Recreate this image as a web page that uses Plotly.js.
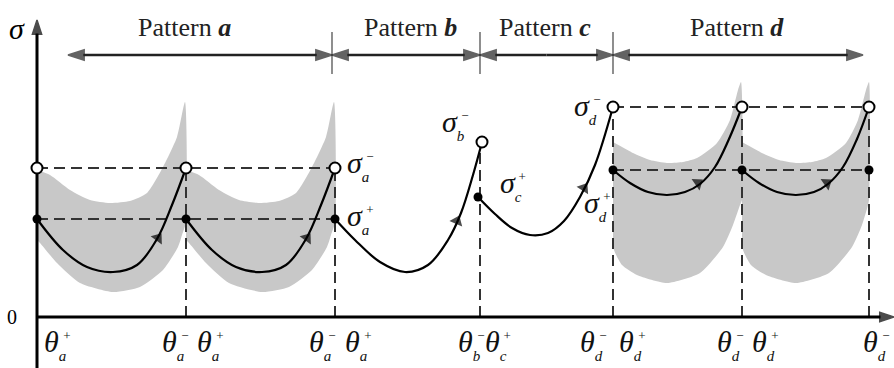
<!DOCTYPE html>
<html>
<head>
<meta charset="utf-8">
<script src="https://cdn.plot.ly/plotly-3.0.1.min.js"></script>
<style>
  html, body { margin: 0; padding: 0; background: #fff; }
  #chart { width: 894px; height: 368px; }
</style>
</head>
<body>
<div id="chart"></div>
<script>
// boundary angles of the stress patterns (theta units, axis origin = 0)
const thetaBounds = [0, 149, 298, 443, 576, 705, 832];
const boundTop = [149, 149, 149, 175, 210, 210, 210];

// stress levels
const sigmaA = [98, 149];   // sigma_a+, sigma_a-
const sigmaD = [147, 210];  // sigma_d+, sigma_d-

// loading paths
const curveA1Theta = [0, 26, 50, 76, 100, 120, 135, 149];
const curveA1Sigma = [98, 67, 50, 45, 52, 78, 112, 149];
const curveA2Theta = [149, 175, 199, 225, 249, 269, 284, 298];
const curveA2Sigma = [98, 67, 50, 45, 52, 78, 112, 149];
const curveBTheta = [298, 318, 343, 368, 391, 411, 424, 436, 445];
const curveBSigma = [98, 77, 55, 45, 52, 77, 104, 142, 175];
const curveCTheta = [441, 458, 475, 493, 511, 527, 543, 558, 576];
const curveCSigma = [120, 103, 89, 82, 84, 96, 120, 152, 210];
const curveD1Theta = [576, 593, 611, 630, 648, 663, 678, 692, 705];
const curveD1Sigma = [147, 134, 125, 122, 125, 133, 150, 178, 210];
const curveD2Theta = [705, 722, 740, 759, 777, 791, 806, 820, 832];
const curveD2Sigma = [147, 134, 125, 122, 125, 133, 150, 178, 210];

// grey scatter bands
const bandA1Theta = [0, 13, 33, 53, 73, 93, 110, 126, 140, 148, 149, 145, 141, 126, 103, 76, 43, 20, 3, 0];
const bandA1Sigma = [147, 142, 127, 117, 114, 116, 124, 150, 180, 215, 95, 82, 70, 47, 30, 25, 34, 54, 74, 77];
const bandA2Theta = [149, 162, 182, 202, 222, 242, 259, 275, 289, 297, 298, 294, 290, 275, 252, 225, 192, 169, 152, 149];
const bandA2Sigma = [147, 142, 127, 117, 114, 116, 124, 150, 180, 215, 95, 82, 70, 47, 30, 25, 34, 54, 74, 77];
const bandD1Theta = [576, 596, 613, 630, 646, 660, 680, 693, 701, 704, 705, 703, 696, 686, 663, 630, 600, 585, 577, 576];
const bandD1Sigma = [175, 164, 157, 154, 155, 159, 174, 197, 227, 235, 117, 112, 92, 70, 44, 34, 42, 52, 67, 77];
const bandD2Theta = [705, 725, 742, 759, 775, 789, 809, 821, 829, 832, 832, 831, 825, 815, 792, 759, 729, 714, 706, 705];
const bandD2Sigma = [175, 164, 157, 154, 155, 159, 174, 197, 227, 235, 117, 112, 92, 70, 44, 34, 42, 52, 67, 77];

// end points of each path
const openTheta = [0, 149, 298, 445, 576, 705, 832];
const openSigma = [149, 149, 149, 175, 210, 210, 210];
const dotTheta = [0, 149, 298, 441, 576, 705, 832];
const dotSigma = [98, 98, 98, 120, 147, 147, 147];

// direction arrows on the paths: position / a point just behind it
const dirTheta = [121, 270, 420, 547, 661, 790];
const dirSigma = [79, 79, 96, 129, 134, 134];
const dirBackTheta = [113, 262, 414, 539, 651, 780];
const dirBackSigma = [68, 68, 82, 117, 127, 127];

// pattern spans at the top
const patternNames = ['a', 'b', 'c', 'd'];
const patternStart = [31, 295, 443, 576];
const patternEnd = [295, 443, 576, 826];
const patternLabelTheta = [147, 373, 508, 700];
const patternTicks = [295, 443, 576];

// theta tick labels (left edge of each label)
const thetaLabelX = [5, 123, 158, 270, 306, 419, 446, 541, 580, 678, 713, 824];
const thetaSign = ['+', '−', '+', '−', '+', '−', '+', '−', '+', '−', '+', '−'];
const thetaSub = ['a', 'a', 'a', 'a', 'a', 'b', 'c', 'd', 'd', 'd', 'd', 'd'];

// sigma labels (left edge of each label)
const sigmaLabelX = [308, 308, 403, 461, 535, 545];
const sigmaLabelY = [152, 99, 193, 132, 209, 112];
const sigmaSign = ['−', '+', '−', '+', '−', '+'];
const sigmaSub = ['a', 'a', 'b', 'c', 'd', 'd'];

const serif = '"Liberation Serif", "Times New Roman", serif';
const grey = '#c8c8c8';
const dashStyle = '11px,6px';

// symbol followed by a lowered subscript letter and a raised sign
function labelText(sym, sign, sub) {
  return '<i>' + sym + '</i>' +
    '<span style="font-size:15px;baseline-shift:-9px;letter-spacing:-3px"><i>' + sub + '</i></span>' +
    '<span style="font-size:13px;baseline-shift:12px">' + sign + '</span>';
}

// line from (x0,y0) to (x1,y1) with an arrowhead at the second point
function arrow(x0, y0, x1, y1, size, width, color) {
  return {
    x: [x0, x1], y: [y0, y1], type: 'scatter', mode: 'lines+markers',
    line: { color, width },
    marker: { symbol: 'arrow', size: [0, size], angleref: 'previous', color, line: { width: 1.5, color } },
    cliponaxis: false, hoverinfo: 'skip'
  };
}

const traces = [];

[[bandA1Theta, bandA1Sigma], [bandA2Theta, bandA2Sigma],
 [bandD1Theta, bandD1Sigma], [bandD2Theta, bandD2Sigma]].forEach(([x, y]) => {
  traces.push({
    x, y, type: 'scatter', mode: 'lines', fill: 'toself',
    fillcolor: grey, line: { width: 0, color: grey, shape: 'spline', smoothing: 0.6 }, hoverinfo: 'skip'
  });
});

// horizontal dashed reference lines
sigmaA.forEach(s => traces.push({
  x: [thetaBounds[0], thetaBounds[2]], y: [s, s], type: 'scatter', mode: 'lines',
  line: { color: '#333', width: 2, dash: dashStyle }, hoverinfo: 'skip'
}));
sigmaD.forEach(s => traces.push({
  x: [thetaBounds[4], thetaBounds[6]], y: [s, s], type: 'scatter', mode: 'lines',
  line: { color: '#333', width: 2, dash: dashStyle }, hoverinfo: 'skip'
}));

// vertical dashed boundaries
thetaBounds.slice(1).forEach((t, i) => traces.push({
  x: [t, t], y: [0, boundTop[i + 1]], type: 'scatter', mode: 'lines',
  line: { color: '#333', width: 2, dash: dashStyle }, hoverinfo: 'skip'
}));

// pattern boundary ticks
patternTicks.forEach(t => traces.push({
  x: [t, t], y: [243, 285], type: 'scatter', mode: 'lines',
  line: { color: '#444', width: 1.2 }, hoverinfo: 'skip'
}));

// axes
traces.push(arrow(0, -51, 0, 297, 15, 3, '#000'));
traces.push(arrow(0, 0, 857, 0, 15, 3, '#000'));

// pattern spans, drawn from the middle out to both ends
patternNames.forEach((n, i) => {
  const mid = (patternStart[i] + patternEnd[i]) / 2;
  traces.push(arrow(mid, 262, patternEnd[i], 262, 17, 2.5, '#222'));
  traces.push(arrow(mid, 262, patternStart[i], 262, 17, 2.5, '#222'));
});

[[curveA1Theta, curveA1Sigma], [curveA2Theta, curveA2Sigma], [curveBTheta, curveBSigma],
 [curveCTheta, curveCSigma], [curveD1Theta, curveD1Sigma], [curveD2Theta, curveD2Sigma]].forEach(([x, y]) => {
  traces.push({
    x, y, type: 'scatter', mode: 'lines',
    line: { color: '#000', width: 2.2, shape: 'spline', smoothing: 1 }, hoverinfo: 'skip'
  });
});

// direction arrows along the paths
dirTheta.forEach((t, i) => traces.push({
  x: [dirBackTheta[i], t], y: [dirBackSigma[i], dirSigma[i]], type: 'scatter', mode: 'markers',
  marker: { symbol: 'triangle-up', size: [0, 12], angleref: 'previous', color: '#000', line: { width: 0 } },
  hoverinfo: 'skip'
}));

traces.push({
  x: dotTheta, y: dotSigma, type: 'scatter', mode: 'markers',
  marker: { size: 9, color: '#000' }, hoverinfo: 'skip'
});
traces.push({
  x: openTheta, y: openSigma, type: 'scatter', mode: 'markers',
  marker: { size: 11, color: '#fff', line: { color: '#000', width: 2 } }, hoverinfo: 'skip'
});

const annotations = [];

patternNames.forEach((n, i) => annotations.push({
  x: patternLabelTheta[i], y: 290, xref: 'x', yref: 'y', showarrow: false,
  text: 'Pattern <b><i>' + n + '</i></b>',
  font: { family: serif, size: 26, color: '#222' }
}));

// axis labels
annotations.push({
  x: -20, y: 289, xref: 'x', yref: 'y', showarrow: false, text: '<i>σ</i>',
  font: { family: serif, size: 30, color: '#000' }
});
annotations.push({
  x: -25, y: 0, xref: 'x', yref: 'y', showarrow: false, text: '0',
  font: { family: serif, size: 20, color: '#000' }
});

// theta labels
thetaLabelX.forEach((t, i) => annotations.push({
  x: t, y: -27, xref: 'x', yref: 'y', xanchor: 'left', showarrow: false,
  text: labelText('θ', thetaSign[i], thetaSub[i]),
  font: { family: serif, size: 30, color: '#111' }
}));

// sigma labels
sigmaLabelX.forEach((t, i) => annotations.push({
  x: t, y: sigmaLabelY[i], xref: 'x', yref: 'y', xanchor: 'left', showarrow: false,
  text: labelText('σ', sigmaSign[i], sigmaSub[i]),
  font: { family: serif, size: 30, color: '#111' }
}));

const layout = {
  width: 894,
  height: 368,
  margin: { l: 0, r: 0, t: 0, b: 0 },
  showlegend: false,
  paper_bgcolor: '#fff',
  plot_bgcolor: '#fff',
  xaxis: { range: [-37, 857], visible: false, fixedrange: true },
  yaxis: { range: [-51, 317], visible: false, fixedrange: true },
  annotations
};

Plotly.newPlot('chart', traces, layout, { displayModeBar: false, staticPlot: true });
</script>
</body>
</html>
